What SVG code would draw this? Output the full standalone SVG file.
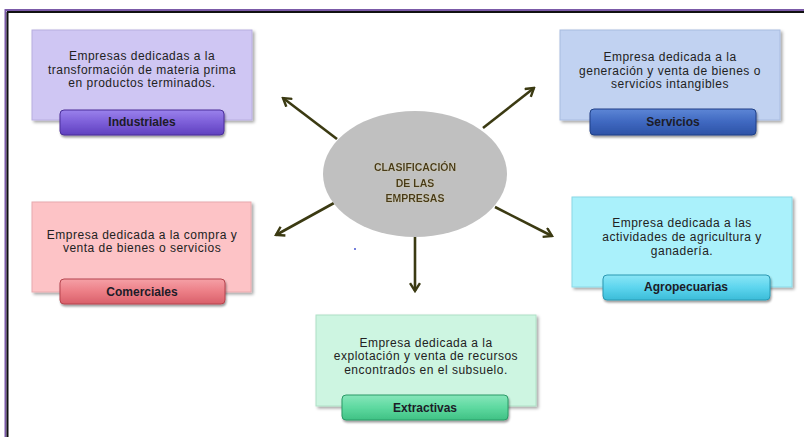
<svg xmlns="http://www.w3.org/2000/svg" width="804" height="437" viewBox="0 0 804 437">
<defs>
<style>
.desc{font-family:"Liberation Sans",Arial,sans-serif;font-size:12px;letter-spacing:0.5px;fill:#222;text-anchor:middle}
.lbl{font-family:"Liberation Sans",Arial,sans-serif;font-size:12px;font-weight:bold;fill:#1c1c28;text-anchor:middle}
.ctr{font-family:"Liberation Sans",Arial,sans-serif;font-size:10.5px;font-weight:bold;fill:#4a3a14;text-anchor:middle}
.box{filter:url(#sh)}
.pill{filter:url(#sh2)}
.conn{stroke:#3b3a12;stroke-width:2.6;fill:none;marker-end:url(#ah)}
</style>
<filter id="sh" x="-10%" y="-10%" width="125%" height="130%">
<feDropShadow dx="2" dy="2" stdDeviation="1.5" flood-color="#000" flood-opacity="0.35"/>
</filter>
<filter id="sh2" x="-10%" y="-20%" width="125%" height="150%">
<feDropShadow dx="1" dy="2" stdDeviation="1.2" flood-color="#000" flood-opacity="0.4"/>
</filter>
<filter id="glow" x="-20%" y="-50%" width="140%" height="200%">
<feGaussianBlur in="SourceAlpha" stdDeviation="1" result="b"/>
<feFlood flood-color="#d8d0a0" flood-opacity="0.6"/>
<feComposite in2="b" operator="in" result="g"/>
<feMerge><feMergeNode in="g"/><feMergeNode in="SourceGraphic"/></feMerge>
</filter>
<marker id="ah" viewBox="0 0 12 12" refX="10" refY="6" markerWidth="4.6" markerHeight="4.6" orient="auto" markerUnits="strokeWidth">
<path d="M2,1 L10,6 L2,11" fill="none" stroke="#3b3a12" stroke-width="2.4" stroke-linejoin="miter"/>
</marker>
<linearGradient id="gInd" x1="0" y1="0" x2="0" y2="1"><stop offset="0" stop-color="#9a82ec"/><stop offset="0.5" stop-color="#7c5ed8"/><stop offset="1" stop-color="#5f40bf"/></linearGradient>
<linearGradient id="gSer" x1="0" y1="0" x2="0" y2="1"><stop offset="0" stop-color="#5d86d6"/><stop offset="0.5" stop-color="#3f68c0"/><stop offset="1" stop-color="#2d52a6"/></linearGradient>
<linearGradient id="gCom" x1="0" y1="0" x2="0" y2="1"><stop offset="0" stop-color="#f5a0a6"/><stop offset="0.5" stop-color="#ec7e86"/><stop offset="1" stop-color="#d9606a"/></linearGradient>
<linearGradient id="gAgr" x1="0" y1="0" x2="0" y2="1"><stop offset="0" stop-color="#8ae6f6"/><stop offset="0.5" stop-color="#5dd5ee"/><stop offset="1" stop-color="#3bbcd8"/></linearGradient>
<linearGradient id="gExt" x1="0" y1="0" x2="0" y2="1"><stop offset="0" stop-color="#86e6ba"/><stop offset="0.5" stop-color="#5ed9a0"/><stop offset="1" stop-color="#3fc184"/></linearGradient>
</defs>
<rect width="804" height="437" fill="#ffffff"/>
<g id="frame">
<line x1="5" y1="10" x2="804" y2="10" stroke="#7b5aa8" stroke-width="2"/>
<line x1="7" y1="12" x2="804" y2="12" stroke="#111" stroke-width="2"/>
<line x1="5.5" y1="9" x2="5.5" y2="437" stroke="#7b5aa8" stroke-width="2"/>
<line x1="7.5" y1="12" x2="7.5" y2="437" stroke="#111" stroke-width="2"/>
</g>
<g id="connectors">
<line class="conn" x1="337" y1="139" x2="283" y2="98"/>
<line class="conn" x1="483" y1="128" x2="534" y2="88"/>
<line class="conn" x1="334" y1="203" x2="276" y2="235"/>
<line class="conn" x1="495" y1="207" x2="552" y2="236"/>
<line class="conn" x1="415" y1="237" x2="415" y2="291"/>
</g>
<g id="center">
<ellipse cx="415" cy="174" rx="92" ry="63" fill="#c0c0c0"/>
<g filter="url(#glow)">
<text class="ctr" x="415" y="171">CLASIFICACIÓN</text>
<text class="ctr" x="415" y="187">DE LAS</text>
<text class="ctr" x="415" y="202">EMPRESAS</text>
</g>
<circle cx="355" cy="249" r="0.9" fill="#3344cc"/>
</g>
<g id="industriales">
<rect class="box" x="32" y="30" width="220" height="90" fill="#cfc6f3" stroke="#b8aee0" stroke-width="1"/>
<text class="desc" x="142" y="60">Empresas dedicadas a la</text>
<text class="desc" x="142" y="74">transformación de materia prima</text>
<text class="desc" x="142" y="87">en productos terminados.</text>
<rect class="pill" x="60" y="110" width="164" height="25" rx="4" fill="url(#gInd)" stroke="#4a2f99" stroke-width="1"/>
<text class="lbl" x="142" y="126">Industriales</text>
</g>
<g id="servicios">
<rect class="box" x="560" y="30" width="220" height="90" fill="#c1d2f1" stroke="#a8bce0" stroke-width="1"/>
<text class="desc" x="670" y="61">Empresa dedicada a la</text>
<text class="desc" x="670" y="75">generación y venta de bienes o</text>
<text class="desc" x="670" y="88">servicios intangibles</text>
<rect class="pill" x="590" y="109" width="166" height="26" rx="4" fill="url(#gSer)" stroke="#1f3f86" stroke-width="1"/>
<text class="lbl" x="673" y="126">Servicios</text>
</g>
<g id="comerciales">
<rect class="box" x="32" y="202" width="219" height="90" fill="#fdc3c6" stroke="#e8aaae" stroke-width="1"/>
<text class="desc" x="142" y="239">Empresa dedicada a la compra y</text>
<text class="desc" x="142" y="252">venta de bienes o servicios</text>
<rect class="pill" x="60" y="279" width="165" height="25" rx="4" fill="url(#gCom)" stroke="#b5444e" stroke-width="1"/>
<text class="lbl" x="142" y="296">Comerciales</text>
</g>
<g id="agropecuarias">
<rect class="box" x="572" y="197" width="220" height="90" fill="#aaf1fb" stroke="#8ad8e6" stroke-width="1"/>
<text class="desc" x="682" y="227">Empresa dedicada a las</text>
<text class="desc" x="682" y="241">actividades de agricultura y</text>
<text class="desc" x="682" y="255">ganadería.</text>
<rect class="pill" x="603" y="275" width="167" height="25" rx="4" fill="url(#gAgr)" stroke="#2a98b2" stroke-width="1"/>
<text class="lbl" x="686" y="291">Agropecuarias</text>
</g>
<g id="extractivas">
<rect class="box" x="316" y="315" width="220" height="91" fill="#cdf5e1" stroke="#aee0c6" stroke-width="1"/>
<text class="desc" x="426" y="347">Empresa dedicada a la</text>
<text class="desc" x="426" y="360">explotación y venta de recursos</text>
<text class="desc" x="426" y="374">encontrados en el subsuelo.</text>
<rect class="pill" x="342" y="395" width="166" height="25" rx="4" fill="url(#gExt)" stroke="#2a9a66" stroke-width="1"/>
<text class="lbl" x="425" y="412">Extractivas</text>
</g>
</svg>
